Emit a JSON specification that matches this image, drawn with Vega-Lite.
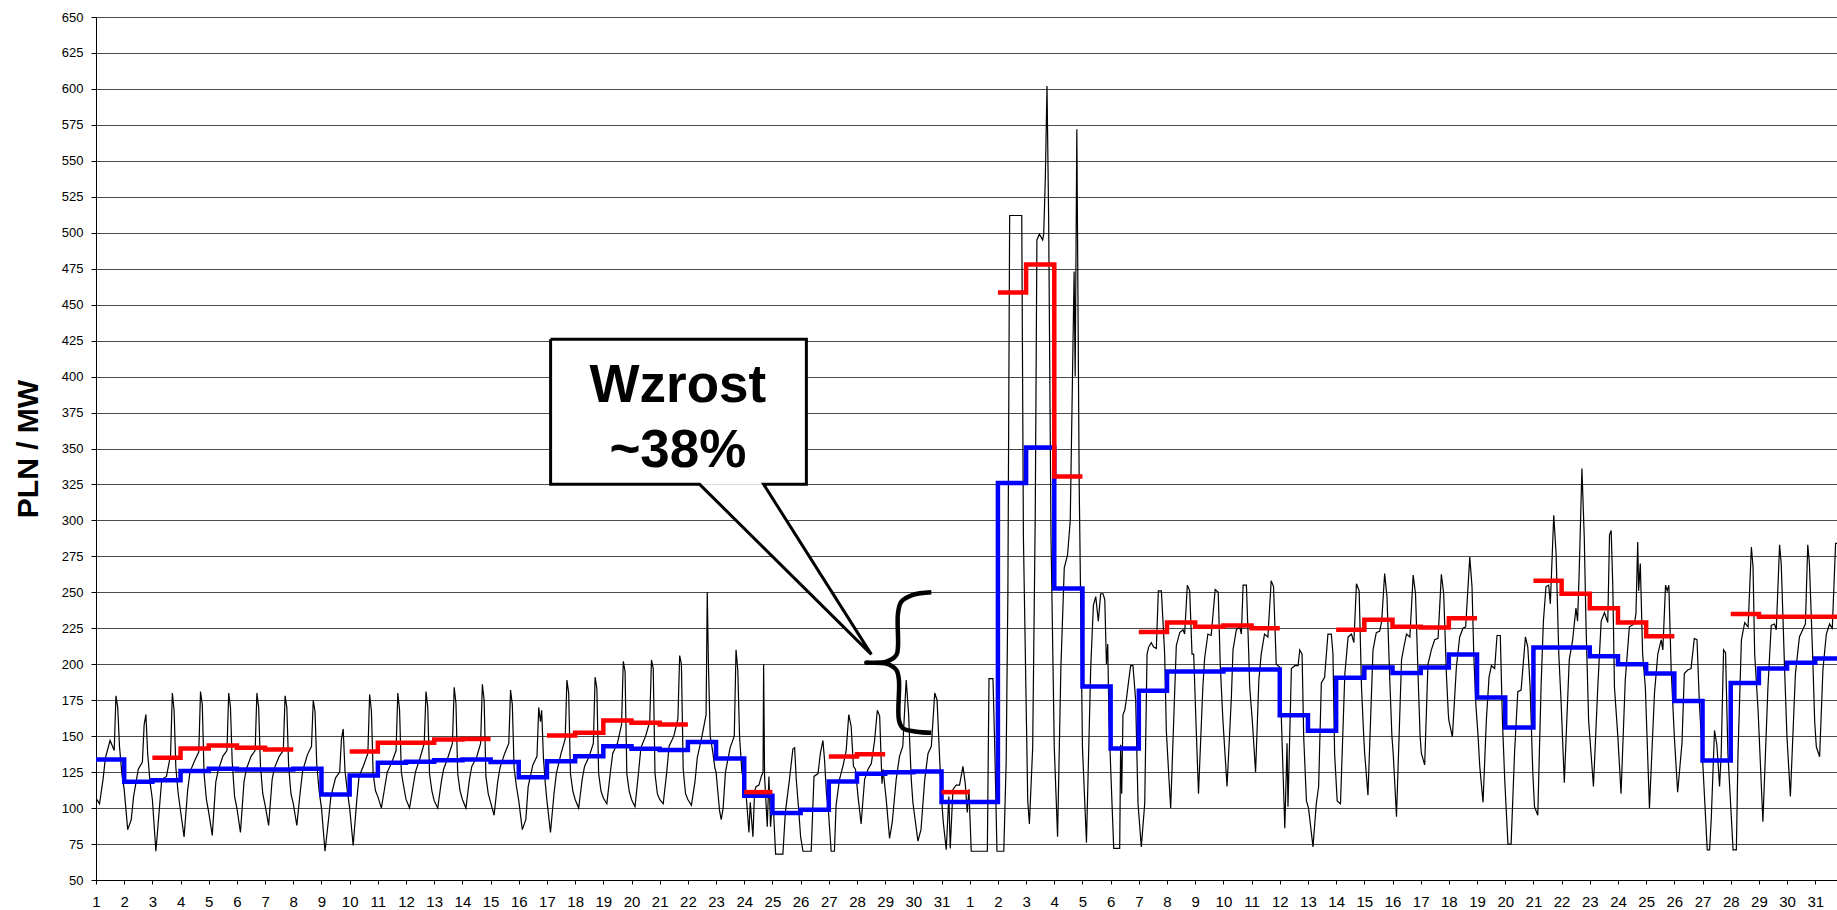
{
"$schema": "https://vega.github.io/schema/vega-lite/v6.json",
"width": 1741, "height": 863,
"autosize": {"type": "none"},
"padding": {"left": 96, "top": 17, "right": 0, "bottom": 30},
"background": "white",
"config": {"view": {"stroke": null}, "font": "Liberation Sans"},
"datasets": {
"hourly": [
{"h":0,"v":107},{"h":3,"v":103},{"h":6,"v":120},{"h":8,"v":135},{"h":12,"v":147},{"h":15.5,"v":140},{"h":17,"v":178},{"h":18.5,"v":170},{"h":20,"v":143},{"h":22,"v":124},
{"h":24,"v":113},{"h":27,"v":85},{"h":30,"v":92},{"h":32,"v":108},{"h":36,"v":127},{"h":39.5,"v":132},{"h":41,"v":158},{"h":42.5,"v":165},{"h":44,"v":138},{"h":46,"v":118},
{"h":48,"v":106},{"h":51,"v":70},{"h":54,"v":100},{"h":56,"v":120},{"h":60,"v":122},{"h":63.5,"v":137},{"h":65,"v":180},{"h":66.5,"v":168},{"h":68,"v":128},{"h":70,"v":110},
{"h":72,"v":98},{"h":75,"v":80},{"h":78,"v":112},{"h":80,"v":125},{"h":84,"v":133},{"h":87.5,"v":139},{"h":89,"v":181},{"h":90.5,"v":172},{"h":92,"v":124},{"h":94,"v":106},
{"h":96,"v":97},{"h":99,"v":81},{"h":102,"v":118},{"h":104,"v":126},{"h":108,"v":136},{"h":111.5,"v":140},{"h":113,"v":180},{"h":114.5,"v":170},{"h":116,"v":132},{"h":118,"v":108},
{"h":120,"v":100},{"h":123,"v":83},{"h":126,"v":118},{"h":128,"v":127},{"h":132,"v":136},{"h":135.5,"v":140},{"h":137,"v":180},{"h":138.5,"v":170},{"h":140,"v":130},{"h":142,"v":110},
{"h":144,"v":102},{"h":147,"v":88},{"h":150,"v":120},{"h":152,"v":128},{"h":156,"v":136},{"h":159.5,"v":140},{"h":161,"v":178},{"h":162.5,"v":170},{"h":164,"v":130},{"h":166,"v":110},
{"h":168,"v":103},{"h":171,"v":88},{"h":174,"v":112},{"h":176,"v":126},{"h":180,"v":137},{"h":183.5,"v":143},{"h":185,"v":175},{"h":186.5,"v":167},{"h":188,"v":130},{"h":190,"v":112},
{"h":192,"v":100},{"h":195,"v":70},{"h":198,"v":92},{"h":200,"v":108},{"h":204,"v":121},{"h":207.5,"v":125},{"h":209,"v":148},{"h":210.5,"v":155},{"h":212,"v":126},{"h":214,"v":112},
{"h":216,"v":100},{"h":219,"v":74},{"h":222,"v":105},{"h":224,"v":122},{"h":228,"v":130},{"h":231.5,"v":138},{"h":233,"v":179},{"h":234.5,"v":168},{"h":236,"v":124},{"h":238,"v":112},
{"h":240,"v":108},{"h":243,"v":100},{"h":246,"v":115},{"h":248,"v":125},{"h":252,"v":132},{"h":255.5,"v":140},{"h":257,"v":180},{"h":258.5,"v":168},{"h":260,"v":125},{"h":262,"v":115},
{"h":264,"v":106},{"h":267,"v":100},{"h":270,"v":115},{"h":272,"v":125},{"h":276,"v":135},{"h":279.5,"v":145},{"h":281,"v":181},{"h":282.5,"v":170},{"h":284,"v":124},{"h":286,"v":112},
{"h":288,"v":105},{"h":291,"v":100},{"h":294,"v":118},{"h":296,"v":127},{"h":300,"v":136},{"h":303.5,"v":145},{"h":305,"v":184},{"h":306.5,"v":173},{"h":308,"v":124},{"h":310,"v":112},
{"h":312,"v":106},{"h":315,"v":100},{"h":318,"v":120},{"h":320,"v":129},{"h":324,"v":135},{"h":327.5,"v":145},{"h":329,"v":186},{"h":330.5,"v":175},{"h":332,"v":122},{"h":334,"v":110},
{"h":336,"v":104},{"h":339,"v":95},{"h":342,"v":118},{"h":344,"v":128},{"h":348,"v":138},{"h":351.5,"v":145},{"h":353,"v":182},{"h":354.5,"v":172},{"h":356,"v":128},{"h":358,"v":115},
{"h":360,"v":105},{"h":363,"v":85},{"h":366,"v":92},{"h":368,"v":115},{"h":372,"v":130},{"h":375.5,"v":136},{"h":377,"v":170},{"h":378.5,"v":160},{"h":379.5,"v":168},{"h":381,"v":135},{"h":382.5,"v":118},
{"h":384,"v":105},{"h":387,"v":83},{"h":390,"v":110},{"h":392,"v":124},{"h":396,"v":138},{"h":399.5,"v":148},{"h":401,"v":189},{"h":402.5,"v":180},{"h":404,"v":124},{"h":406,"v":112},
{"h":408,"v":106},{"h":411,"v":100},{"h":414,"v":120},{"h":416,"v":129},{"h":420,"v":136},{"h":423.5,"v":145},{"h":425,"v":191},{"h":426.5,"v":183},{"h":428,"v":124},{"h":430,"v":112},
{"h":432,"v":107},{"h":435,"v":103},{"h":438,"v":125},{"h":440,"v":138},{"h":444,"v":145},{"h":447.5,"v":158},{"h":449,"v":202},{"h":450.5,"v":195},{"h":452,"v":124},{"h":454,"v":112},
{"h":456,"v":106},{"h":459,"v":101},{"h":462,"v":125},{"h":464,"v":142},{"h":468,"v":150},{"h":471.5,"v":160},{"h":473,"v":203},{"h":474.5,"v":197},{"h":476,"v":124},{"h":478,"v":110},
{"h":480,"v":106},{"h":483,"v":103},{"h":486,"v":125},{"h":488,"v":143},{"h":492,"v":150},{"h":495.5,"v":162},{"h":497,"v":206},{"h":498.5,"v":200},{"h":500,"v":127},{"h":502,"v":110},
{"h":504,"v":106},{"h":507,"v":102},{"h":510,"v":118},{"h":512,"v":135},{"h":516,"v":150},{"h":519.5,"v":165},{"h":520.5,"v":250},{"h":521.5,"v":200},{"h":523,"v":150},{"h":525,"v":140},{"h":527,"v":128},
{"h":528,"v":125},{"h":531,"v":98},{"h":532.4,"v":92},{"h":534,"v":100},{"h":536,"v":125},{"h":540,"v":142},{"h":543.5,"v":150},{"h":545,"v":210},{"h":546.5,"v":196},{"h":548,"v":150},{"h":550,"v":125},
{"h":552,"v":118},{"h":553.7,"v":108},{"h":556,"v":83},{"h":557.1,"v":104},{"h":559.4,"v":80},{"h":560.8,"v":112},{"h":562.2,"v":115},{"h":564.5,"v":116},{"h":566.5,"v":122},{"h":568,"v":125},{"h":568.5,"v":200},{"h":569.3,"v":122},{"h":571.6,"v":87},{"h":573,"v":122},{"h":574.4,"v":87},{"h":575.5,"v":100},
{"h":577,"v":97},{"h":578.7,"v":68},{"h":584.9,"v":68},{"h":587,"v":97},{"h":590.5,"v":120},{"h":593.4,"v":141},{"h":594.9,"v":142},{"h":596.3,"v":120},{"h":598.5,"v":97},
{"h":600,"v":80},{"h":602,"v":70},{"h":609,"v":70},{"h":611.4,"v":122},{"h":614.8,"v":124},{"h":616.8,"v":138},{"h":619,"v":147},{"h":620.4,"v":133},{"h":622,"v":110},{"h":623.5,"v":100},
{"h":626,"v":70},{"h":628.8,"v":70},{"h":630.2,"v":102},{"h":633.1,"v":120},{"h":636,"v":129},{"h":638.8,"v":140},{"h":641,"v":165},{"h":643,"v":157},{"h":645,"v":129},{"h":646.7,"v":127},
{"h":648.9,"v":108},{"h":651.5,"v":89},{"h":654.5,"v":120},{"h":657.4,"v":127},{"h":660.2,"v":131},{"h":663,"v":147},{"h":665.3,"v":168},{"h":667.3,"v":164},{"h":669.3,"v":117},{"h":670.2,"v":127},
{"h":673,"v":105},{"h":675.7,"v":79},{"h":678,"v":90},{"h":681.4,"v":120},{"h":684.2,"v":136},{"h":687,"v":143},{"h":689.9,"v":189},{"h":691.9,"v":166},{"h":694.2,"v":120},{"h":695.6,"v":104},
{"h":697,"v":95},{"h":699.9,"v":77},{"h":702.5,"v":85},{"h":705.7,"v":120},{"h":708.5,"v":138},{"h":711.3,"v":143},{"h":714.2,"v":180},{"h":716.2,"v":175},{"h":717.9,"v":143},{"h":719.9,"v":108},
{"h":721.5,"v":90},{"h":724,"v":71},{"h":726.2,"v":108},{"h":727.4,"v":72},{"h":729.7,"v":113},{"h":732.5,"v":116},{"h":735.3,"v":116},{"h":738.2,"v":129},{"h":740.2,"v":117},{"h":741.9,"v":97},{"h":743.3,"v":113},
{"h":745.3,"v":70},{"h":759,"v":70},{"h":760.4,"v":190},{"h":763.8,"v":190},{"h":765.2,"v":146},{"h":767.2,"v":70},
{"h":773,"v":70},{"h":775,"v":131},{"h":776.5,"v":250},{"h":778,"v":512},{"h":788.3,"v":512},{"h":789.7,"v":289},
{"h":793.4,"v":105},{"h":794.8,"v":89},{"h":797.6,"v":142},{"h":799.8,"v":304},{"h":801.2,"v":495},{"h":803.3,"v":499},{"h":806.1,"v":495},{"h":807,"v":499},{"h":808.4,"v":539},{"h":809.8,"v":602},{"h":811.2,"v":510},{"h":813.2,"v":289},
{"h":816,"v":142},{"h":818.8,"v":80},{"h":821.6,"v":197},{"h":824.5,"v":267},{"h":827.3,"v":276},{"h":829.6,"v":300},{"h":831.5,"v":400},{"h":832.9,"v":473},{"h":833.8,"v":400},{"h":835.2,"v":572},{"h":837.2,"v":326},
{"h":840,"v":142},{"h":843.4,"v":76},{"h":847,"v":197},{"h":849.3,"v":241},{"h":851.3,"v":247},{"h":853.5,"v":230},{"h":855.5,"v":249},{"h":857.5,"v":249},{"h":859,"v":245},{"h":860.4,"v":200},{"h":861.5,"v":214},{"h":862.6,"v":160},
{"h":864.6,"v":115},{"h":866.6,"v":72},{"h":871.7,"v":72},{"h":872.5,"v":144},{"h":873.4,"v":110},{"h":874.5,"v":165},{"h":876,"v":168},{"h":877.3,"v":175},{"h":878.8,"v":185},{"h":881,"v":199},{"h":883,"v":199},{"h":885.3,"v":175},{"h":887.3,"v":103},
{"h":890.1,"v":73},{"h":893,"v":103},{"h":895,"v":207},{"h":896.4,"v":212},{"h":898.6,"v":215},{"h":900.6,"v":212},{"h":902.9,"v":211},{"h":904.6,"v":251},{"h":907.2,"v":251},{"h":910,"v":207},{"h":911.4,"v":154},
{"h":913.4,"v":124},{"h":915.1,"v":100},{"h":917.7,"v":161},{"h":919.9,"v":213},{"h":922.8,"v":222},{"h":925.6,"v":224},{"h":927,"v":221},{"h":929.3,"v":255},{"h":931.3,"v":251},{"h":933.3,"v":207},{"h":934.7,"v":207},
{"h":936.9,"v":154},{"h":938.8,"v":110},{"h":942.5,"v":184},{"h":944,"v":204},{"h":946.8,"v":221},{"h":949.6,"v":220},{"h":953,"v":252},{"h":955.6,"v":250},{"h":957.3,"v":200},{"h":959.6,"v":161},
{"h":963.1,"v":115},{"h":966.8,"v":177},{"h":968.2,"v":210},{"h":971,"v":224},{"h":973.9,"v":226},{"h":975.3,"v":221},{"h":976.8,"v":255},{"h":979.6,"v":255},{"h":981.6,"v":207},{"h":982.4,"v":184},
{"h":984.6,"v":161},{"h":987.4,"v":125},{"h":990.2,"v":189},{"h":992.2,"v":207},{"h":995,"v":221},{"h":997.9,"v":219},{"h":1000.7,"v":258},{"h":1002.7,"v":254},{"h":1005,"v":200},{"h":1007.9,"v":198},
{"h":1009.4,"v":161},{"h":1012.3,"v":86},{"h":1014.2,"v":145},{"h":1015,"v":101},{"h":1017.9,"v":197},{"h":1020.8,"v":199},{"h":1023.6,"v":199},{"h":1025,"v":210},{"h":1027,"v":207},{"h":1028.4,"v":149},{"h":1030.7,"v":105},
{"h":1032.5,"v":100},{"h":1036.3,"v":73},{"h":1039.1,"v":103},{"h":1041.1,"v":115},{"h":1043.4,"v":187},{"h":1046.2,"v":191},{"h":1049,"v":221},{"h":1051.9,"v":221},{"h":1053.3,"v":207},{"h":1054.7,"v":138},
{"h":1056.9,"v":105},{"h":1059.7,"v":103},{"h":1063.4,"v":193},{"h":1066.2,"v":219},{"h":1069.1,"v":221},{"h":1071.1,"v":215},{"h":1073.3,"v":256},{"h":1075.6,"v":251},{"h":1077.6,"v":184},{"h":1079.5,"v":150},
{"h":1080.3,"v":138},{"h":1083.1,"v":109},{"h":1087.4,"v":210},{"h":1090.2,"v":222},{"h":1093.1,"v":223},{"h":1094.8,"v":230},{"h":1097.3,"v":263},{"h":1099.3,"v":247},{"h":1101.6,"v":191},{"h":1103.5,"v":150},
{"h":1104.6,"v":138},{"h":1107.4,"v":94},{"h":1111.7,"v":203},{"h":1113.7,"v":212},{"h":1115.9,"v":221},{"h":1118.8,"v":219},{"h":1121.6,"v":262},{"h":1123.6,"v":249},{"h":1125.9,"v":189},{"h":1127.5,"v":150},
{"h":1128.6,"v":138},{"h":1131.4,"v":130},{"h":1134.2,"v":200},{"h":1137.1,"v":210},{"h":1139.9,"v":217},{"h":1142.8,"v":218},{"h":1145.6,"v":262.5},{"h":1147.6,"v":249},{"h":1149.9,"v":193},{"h":1151.5,"v":166},
{"h":1152,"v":161},{"h":1155,"v":149.5},{"h":1158.4,"v":198},{"h":1161.2,"v":219},{"h":1164,"v":225},{"h":1166.3,"v":226},{"h":1169.8,"v":274.5},{"h":1171.7,"v":254},{"h":1173.2,"v":207},{"h":1174.9,"v":173},
{"h":1176.9,"v":149.5},{"h":1178.3,"v":129},{"h":1181.1,"v":104},{"h":1183.9,"v":161},{"h":1186.2,"v":191},{"h":1188.2,"v":199},{"h":1191,"v":197},{"h":1193,"v":220},{"h":1195.8,"v":220},{"h":1197.6,"v":161},{"h":1199.6,"v":119},
{"h":1202.3,"v":75},{"h":1205,"v":75},{"h":1207.9,"v":138},{"h":1210.7,"v":181},{"h":1213.5,"v":182},{"h":1217.2,"v":219},{"h":1219.2,"v":212},{"h":1221.2,"v":184},{"h":1223.4,"v":126},
{"h":1224.9,"v":101},{"h":1227.7,"v":95},{"h":1230.5,"v":184},{"h":1232.5,"v":230},{"h":1234.7,"v":254},{"h":1237,"v":255},{"h":1238.4,"v":242},{"h":1241.3,"v":303.5},{"h":1243.3,"v":277},{"h":1245.6,"v":207},{"h":1247.6,"v":173},
{"h":1250.3,"v":117.6},{"h":1254.5,"v":203},{"h":1257.4,"v":217},{"h":1260.2,"v":239},{"h":1261.6,"v":230},{"h":1263,"v":265},{"h":1265.3,"v":336},{"h":1267.3,"v":288},{"h":1268.7,"v":230},{"h":1271,"v":161},
{"h":1275.1,"v":115},{"h":1278.8,"v":184},{"h":1281.7,"v":230},{"h":1284.5,"v":236},{"h":1287.3,"v":229},{"h":1288.8,"v":290},{"h":1290.2,"v":293},{"h":1291.6,"v":254},{"h":1293,"v":184},{"h":1295.9,"v":149.5},
{"h":1298.6,"v":110},{"h":1302.2,"v":189},{"h":1305.7,"v":226},{"h":1309.9,"v":228},{"h":1311.3,"v":235},{"h":1312.8,"v":285},{"h":1313.6,"v":251},{"h":1315,"v":270},{"h":1317,"v":207},{"h":1319.3,"v":184},
{"h":1322.8,"v":100},{"h":1327.1,"v":180},{"h":1329.9,"v":207},{"h":1332.8,"v":217},{"h":1334.2,"v":210},{"h":1336.5,"v":255},{"h":1337.9,"v":251},{"h":1339.3,"v":255},{"h":1341.3,"v":196},
{"h":1344,"v":149.5},{"h":1346.8,"v":111},{"h":1350.5,"v":145},{"h":1352.5,"v":193.5},{"h":1355.4,"v":196},{"h":1358.2,"v":197},{"h":1361,"v":218},{"h":1363.3,"v":217},{"h":1365.3,"v":173},
{"h":1368.1,"v":133},{"h":1372,"v":71},{"h":1374,"v":71},{"h":1375.4,"v":92},{"h":1378.2,"v":154},{"h":1380.2,"v":144},{"h":1382.5,"v":115},{"h":1383.9,"v":138},{"h":1385.9,"v":210},{"h":1387.6,"v":208},{"h":1389.6,"v":138},
{"h":1394,"v":71},{"h":1396.8,"v":71},{"h":1398.2,"v":138},{"h":1401.1,"v":217},{"h":1403.9,"v":229},{"h":1406.8,"v":226},{"h":1409.6,"v":281.5},{"h":1411,"v":267.6},{"h":1412.4,"v":207},{"h":1415.3,"v":168},
{"h":1419.4,"v":90.5},{"h":1423.7,"v":184},{"h":1426.5,"v":227},{"h":1429.3,"v":228},{"h":1430.8,"v":224},{"h":1433.6,"v":283},{"h":1435,"v":270},{"h":1437.9,"v":196},{"h":1439.9,"v":149.5},
{"h":1442.8,"v":108},{"h":1447.1,"v":193.5},{"h":1450.5,"v":219},{"h":1453.3,"v":224},{"h":1455.6,"v":228},{"h":1457.6,"v":283},{"h":1459,"v":270},{"h":1461.9,"v":203},{"h":1463.5,"v":160},
{"h":1464.9,"v":142.6},{"h":1467.7,"v":135.7},{"h":1470.5,"v":196},{"h":1473.4,"v":221},{"h":1476.2,"v":228},{"h":1478.5,"v":225},{"h":1481.3,"v":284},{"h":1483,"v":284},{"h":1485,"v":220}
],
"base": [
{"h":0,"v":133.8},{"h":24,"v":118.3},{"h":48,"v":119.4},{"h":72,"v":125.7},{"h":96,"v":127.3},{"h":120,"v":126.8},{"h":144,"v":126.8},{"h":168,"v":127.3},{"h":192,"v":109.5},{"h":216,"v":122.7},{"h":240,"v":131.5},{"h":264,"v":132.3},{"h":288,"v":133.3},{"h":312,"v":133.8},{"h":336,"v":132},{"h":360,"v":121.5},{"h":384,"v":132.6},{"h":408,"v":136},{"h":432,"v":143},{"h":456,"v":141.2},{"h":480,"v":140.3},{"h":504,"v":146},{"h":528,"v":134.4},{"h":552,"v":108.6},{"h":576,"v":96.5},{"h":600,"v":98.8},{"h":624,"v":118.5},{"h":648,"v":123.8},{"h":672,"v":125},{"h":696,"v":125.5},{"h":720,"v":104.2},{"h":744,"v":104.2},{"h":768,"v":326},{"h":792,"v":350.7},{"h":816,"v":252.6},{"h":840,"v":184.6},{"h":864,"v":141.4},{"h":888,"v":181.5},{"h":912,"v":195},{"h":936,"v":195},{"h":960,"v":196.3},{"h":984,"v":196.3},{"h":1008,"v":164.6},{"h":1032,"v":153.7},{"h":1056,"v":190.7},{"h":1080,"v":197.7},{"h":1104,"v":194},{"h":1128,"v":197.7},{"h":1152,"v":206.7},{"h":1176,"v":176.9},{"h":1200,"v":156},{"h":1224,"v":211.6},{"h":1248,"v":211.6},{"h":1272,"v":205.6},{"h":1296,"v":200},{"h":1320,"v":193.5},{"h":1344,"v":174.5},{"h":1368,"v":133},{"h":1392,"v":187},{"h":1416,"v":197},{"h":1440,"v":201},{"h":1464,"v":204},{"h":1488,"v":204}
],
"peak": [
{"g":1,"h":48,"v":135},{"g":1,"h":72,"v":141.4},{"g":1,"h":96,"v":143.5},{"g":1,"h":120,"v":141.9},{"g":1,"h":144,"v":140.7},{"g":1,"h":168,"v":140.7},
{"g":2,"h":216,"v":139.4},{"g":2,"h":240,"v":145.4},{"g":2,"h":264,"v":145.4},{"g":2,"h":288,"v":147.7},{"g":2,"h":312,"v":148.1},{"g":2,"h":336,"v":148.1},
{"g":3,"h":384,"v":150.5},{"g":3,"h":408,"v":152.3},{"g":3,"h":432,"v":160.9},{"g":3,"h":456,"v":159.3},{"g":3,"h":480,"v":158.1},{"g":3,"h":504,"v":158.1},
{"g":4,"h":552,"v":111.1},{"g":4,"h":576,"v":111.1},
{"g":5,"h":624,"v":135.9},{"g":5,"h":648,"v":137.5},{"g":5,"h":672,"v":137.5},
{"g":6,"h":720,"v":111.1},{"g":6,"h":744,"v":111.1},
{"g":7,"h":768,"v":458.5},{"g":7,"h":792,"v":478},{"g":7,"h":816,"v":330.5},{"g":7,"h":840,"v":330.5},
{"g":8,"h":888,"v":222.5},{"g":8,"h":912,"v":229},{"g":8,"h":936,"v":226},{"g":8,"h":960,"v":227},{"g":8,"h":984,"v":225},{"g":8,"h":1008,"v":225},
{"g":9,"h":1056,"v":224},{"g":9,"h":1080,"v":231},{"g":9,"h":1104,"v":226},{"g":9,"h":1128,"v":225.5},{"g":9,"h":1152,"v":232},{"g":9,"h":1176,"v":232},
{"g":10,"h":1224,"v":258},{"g":10,"h":1248,"v":249},{"g":10,"h":1272,"v":239},{"g":10,"h":1296,"v":229},{"g":10,"h":1320,"v":219.5},{"g":10,"h":1344,"v":219.5},
{"g":11,"h":1392,"v":235},{"g":11,"h":1416,"v":233},{"g":11,"h":1440,"v":233},{"g":11,"h":1464,"v":233},{"g":11,"h":1488,"v":233}
],
"box": [{"h":387.1,"h2":604.9,"v":325.1,"v2":425.9}],
"tri": [{"h":514,"v":325.1,"v2":325.1},{"h":568.5,"v":281,"v2":325.1},{"h":660.2,"v":206.9,"v2":206.9}],
"outline": [
{"o":1,"h":387.1,"v":425.9},{"o":2,"h":604.9,"v":425.9},{"o":3,"h":604.9,"v":325.1},{"o":4,"h":568.5,"v":325.1},{"o":5,"h":660.2,"v":206.9},{"o":6,"h":514,"v":325.1},{"o":7,"h":387.1,"v":325.1},{"o":8,"h":387.1,"v":425.9}
],
"labels": [{"h":495.5,"v":382.6,"s":"Wzrost"},{"h":495.5,"v":337.3,"s":"~38%"}],
"brace": [
{"o":1,"h":711.3,"v":250},{"o":2,"h":695.6,"v":248.2},{"o":3,"h":685.8,"v":243.5},{"o":4,"h":682.9,"v":235.4},{"o":5,"h":682.9,"v":212.2},{"o":6,"h":681.5,"v":206.4},{"o":7,"h":673,"v":201.8},{"o":8,"h":656,"v":201.1},{"o":9,"h":673,"v":200.4},{"o":10,"h":681.5,"v":196},{"o":11,"h":683.7,"v":189.1},{"o":12,"h":683.7,"v":161.2},{"o":13,"h":687.1,"v":155.5},{"o":14,"h":698.5,"v":153.1},{"o":15,"h":711.3,"v":152.4}
]
},
"encoding": {
"x": {"field": "h", "type": "quantitative", "scale": {"domain": [0, 1482.5], "nice": false, "zero": false},
"axis": {"values": [0,24,48,72,96,120,144,168,192,216,240,264,288,312,336,360,384,408,432,456,480,504,528,552,576,600,624,648,672,696,720,744,768,792,816,840,864,888,912,936,960,984,1008,1032,1056,1080,1104,1128,1152,1176,1200,1224,1248,1272,1296,1320,1344,1368,1392,1416,1440,1464],
"labelExpr": "datum.value < 744 ? datum.value / 24 + 1 : datum.value / 24 - 30",
"title": null, "grid": false, "domainColor": "#000000", "domainWidth": 1, "tickColor": "#000000", "tickSize": 4,
"labelFont": "Liberation Sans", "labelFontSize": 15, "labelColor": "#000000", "labelBaseline": "alphabetic", "labelPadding": 22, "labelOverlap": false, "labelFlush": false}},
"y": {"field": "v", "type": "quantitative", "scale": {"domain": [50, 650], "nice": false, "zero": false},
"axis": {"values": [50,75,100,125,150,175,200,225,250,275,300,325,350,375,400,425,450,475,500,525,550,575,600,625,650],
"grid": true, "gridColor": "#4a4a4a", "gridWidth": 1, "domainColor": "#000000", "domainWidth": 1, "tickColor": "#000000", "tickSize": 5,
"labelFont": "Liberation Sans", "labelFontSize": 13, "labelColor": "#000000", "labelPadding": 8,
"title": "PLN / MW", "titleFont": "Liberation Sans", "titleFontSize": 30, "titleFontWeight": "bold", "titleColor": "#000000",
"titleAngle": -90, "titleAlign": "center", "titleBaseline": "alphabetic", "titleX": -59, "titleY": 431.5}}
},
"layer": [
{
"data": {"name": "hourly"},
"mark": {"type": "line", "color": "#000000", "strokeWidth": 1.2, "clip": true}
},
{
"data": {"name": "base"},
"mark": {"type": "line", "color": "#0000FF", "strokeWidth": 4.5, "interpolate": "step-after", "clip": true}
},
{
"data": {"name": "peak"},
"mark": {"type": "line", "color": "#FF0000", "strokeWidth": 4.5, "interpolate": "step-after", "clip": true},
"encoding": {"detail": {"field": "g", "type": "nominal"}}
},
{
"data": {"name": "tri"},
"mark": {"type": "area", "color": "#FFFFFF", "opacity": 1},
"encoding": {"y2": {"field": "v2"}}
},
{
"data": {"name": "box"},
"mark": {"type": "rect", "color": "#FFFFFF", "opacity": 1},
"encoding": {"x2": {"field": "h2"}, "y2": {"field": "v2"}}
},
{
"data": {"name": "outline"},
"mark": {"type": "line", "color": "#000000", "strokeWidth": 3, "strokeJoin": "miter"},
"encoding": {"order": {"field": "o", "type": "quantitative"}}
},
{
"data": {"name": "labels"},
"mark": {"type": "text", "font": "Liberation Sans", "fontSize": 53, "fontWeight": "bold", "color": "#000000", "align": "center", "baseline": "alphabetic"},
"encoding": {"text": {"field": "s", "type": "nominal"}}
},
{
"data": {"name": "brace"},
"mark": {"type": "line", "color": "#000000", "strokeWidth": 4.5, "interpolate": "catmull-rom", "strokeCap": "butt"},
"encoding": {"order": {"field": "o", "type": "quantitative"}}
}
]
}
